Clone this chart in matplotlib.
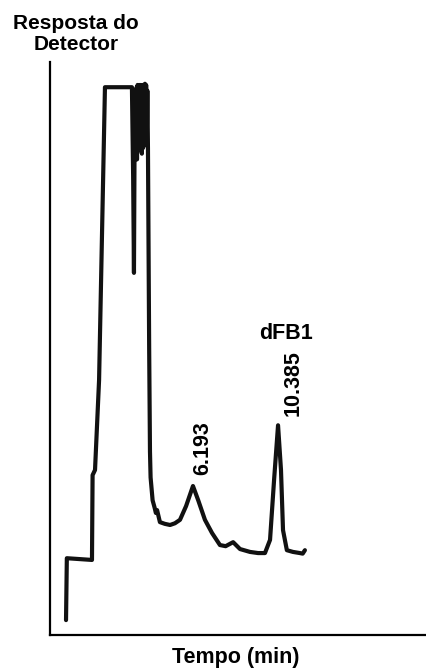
import matplotlib.pyplot as plt

# chromatogram trace (time in min, response in arbitrary units)
tempo = [
    -0.07, -0.03, 1.21, 1.24, 1.36, 1.56, 1.85, 3.18, 3.24, 3.28, 3.31, 3.34,
    3.37, 3.40, 3.43, 3.46, 3.49, 3.52, 3.55, 3.58, 3.61, 3.64, 3.67, 3.70,
    3.73, 3.76, 3.79, 3.82, 3.85, 3.88, 3.91, 3.94, 3.97, 4.03, 4.07, 4.10,
    4.20, 4.30, 4.36, 4.42, 4.56, 4.80, 5.06, 5.30, 5.55, 5.85, 6.19, 6.45,
    6.78, 7.13, 7.52, 7.80, 8.17, 8.51, 9.00, 9.40, 9.74, 9.99, 10.19, 10.385,
    10.53, 10.63, 10.82, 11.12, 11.46, 11.60, 11.71,
]
resposta = [
    2.6, 13.4, 13.1, 27.9, 28.8, 44.5, 95.6, 95.6, 80.0, 63.2, 86.0, 95.0,
    84.0, 95.5, 83.0, 96.0, 85.0, 95.0, 84.6, 96.0, 86.0, 95.5, 84.0, 96.0,
    85.0, 95.8, 86.0, 96.2, 85.5, 96.0, 86.0, 95.0, 85.0, 50.0, 32.0, 27.5,
    23.5, 22.2, 21.3, 21.8, 19.7, 19.4, 19.2, 19.5, 20.1, 22.5, 26.0, 23.5,
    20.1, 17.8, 15.7, 15.5, 16.2, 15.0, 14.5, 14.3, 14.3, 16.6, 27.1, 36.6,
    28.8, 18.3, 14.8, 14.5, 14.3, 14.2, 14.8,
]

picos = ["6.193", "10.385"]
pico_x = [6.69, 11.12]
pico_y = [32.6, 44.0]

W, H = 427, 669
fig = plt.figure(figsize=(W / 100, H / 100), dpi=100)
plt.rcParams["font.family"] = ["Liberation Sans", "DejaVu Sans"]

ax = fig.add_axes([50 / W, 1 - 635 / H, (W - 50) / W, (635 - 62) / H])
ax.plot(tempo, resposta, color="#111111", lw=3.0, solid_joinstyle="round",
        solid_capstyle="round")
ax.set_xlim(-0.86, 17.73)
ax.set_ylim(0, 100)
ax.set_xticks([])
ax.set_yticks([])
for side in ("top", "right"):
    ax.spines[side].set_visible(False)
for side in ("left", "bottom"):
    ax.spines[side].set_linewidth(1.6)
    ax.spines[side].set_color("black")

for lab, x, y in zip(picos, pico_x, pico_y):
    ax.text(x, y, lab, rotation=90, ha="center", va="center",
            fontsize=15.5, fontweight="bold")
ax.text(10.78, 52.7, "dFB1", ha="center", va="center",
        fontsize=15.5, fontweight="bold")

fig.text(76 / W, 1 - 34 / H, "Resposta do\nDetector", ha="center", va="center",
         fontsize=15, fontweight="bold", linespacing=1.1)
fig.text(236 / W, 1 - 658 / H, "Tempo (min)", ha="center", va="center",
         fontsize=15.5, fontweight="bold")

fig.savefig("out.png", dpi=100)
